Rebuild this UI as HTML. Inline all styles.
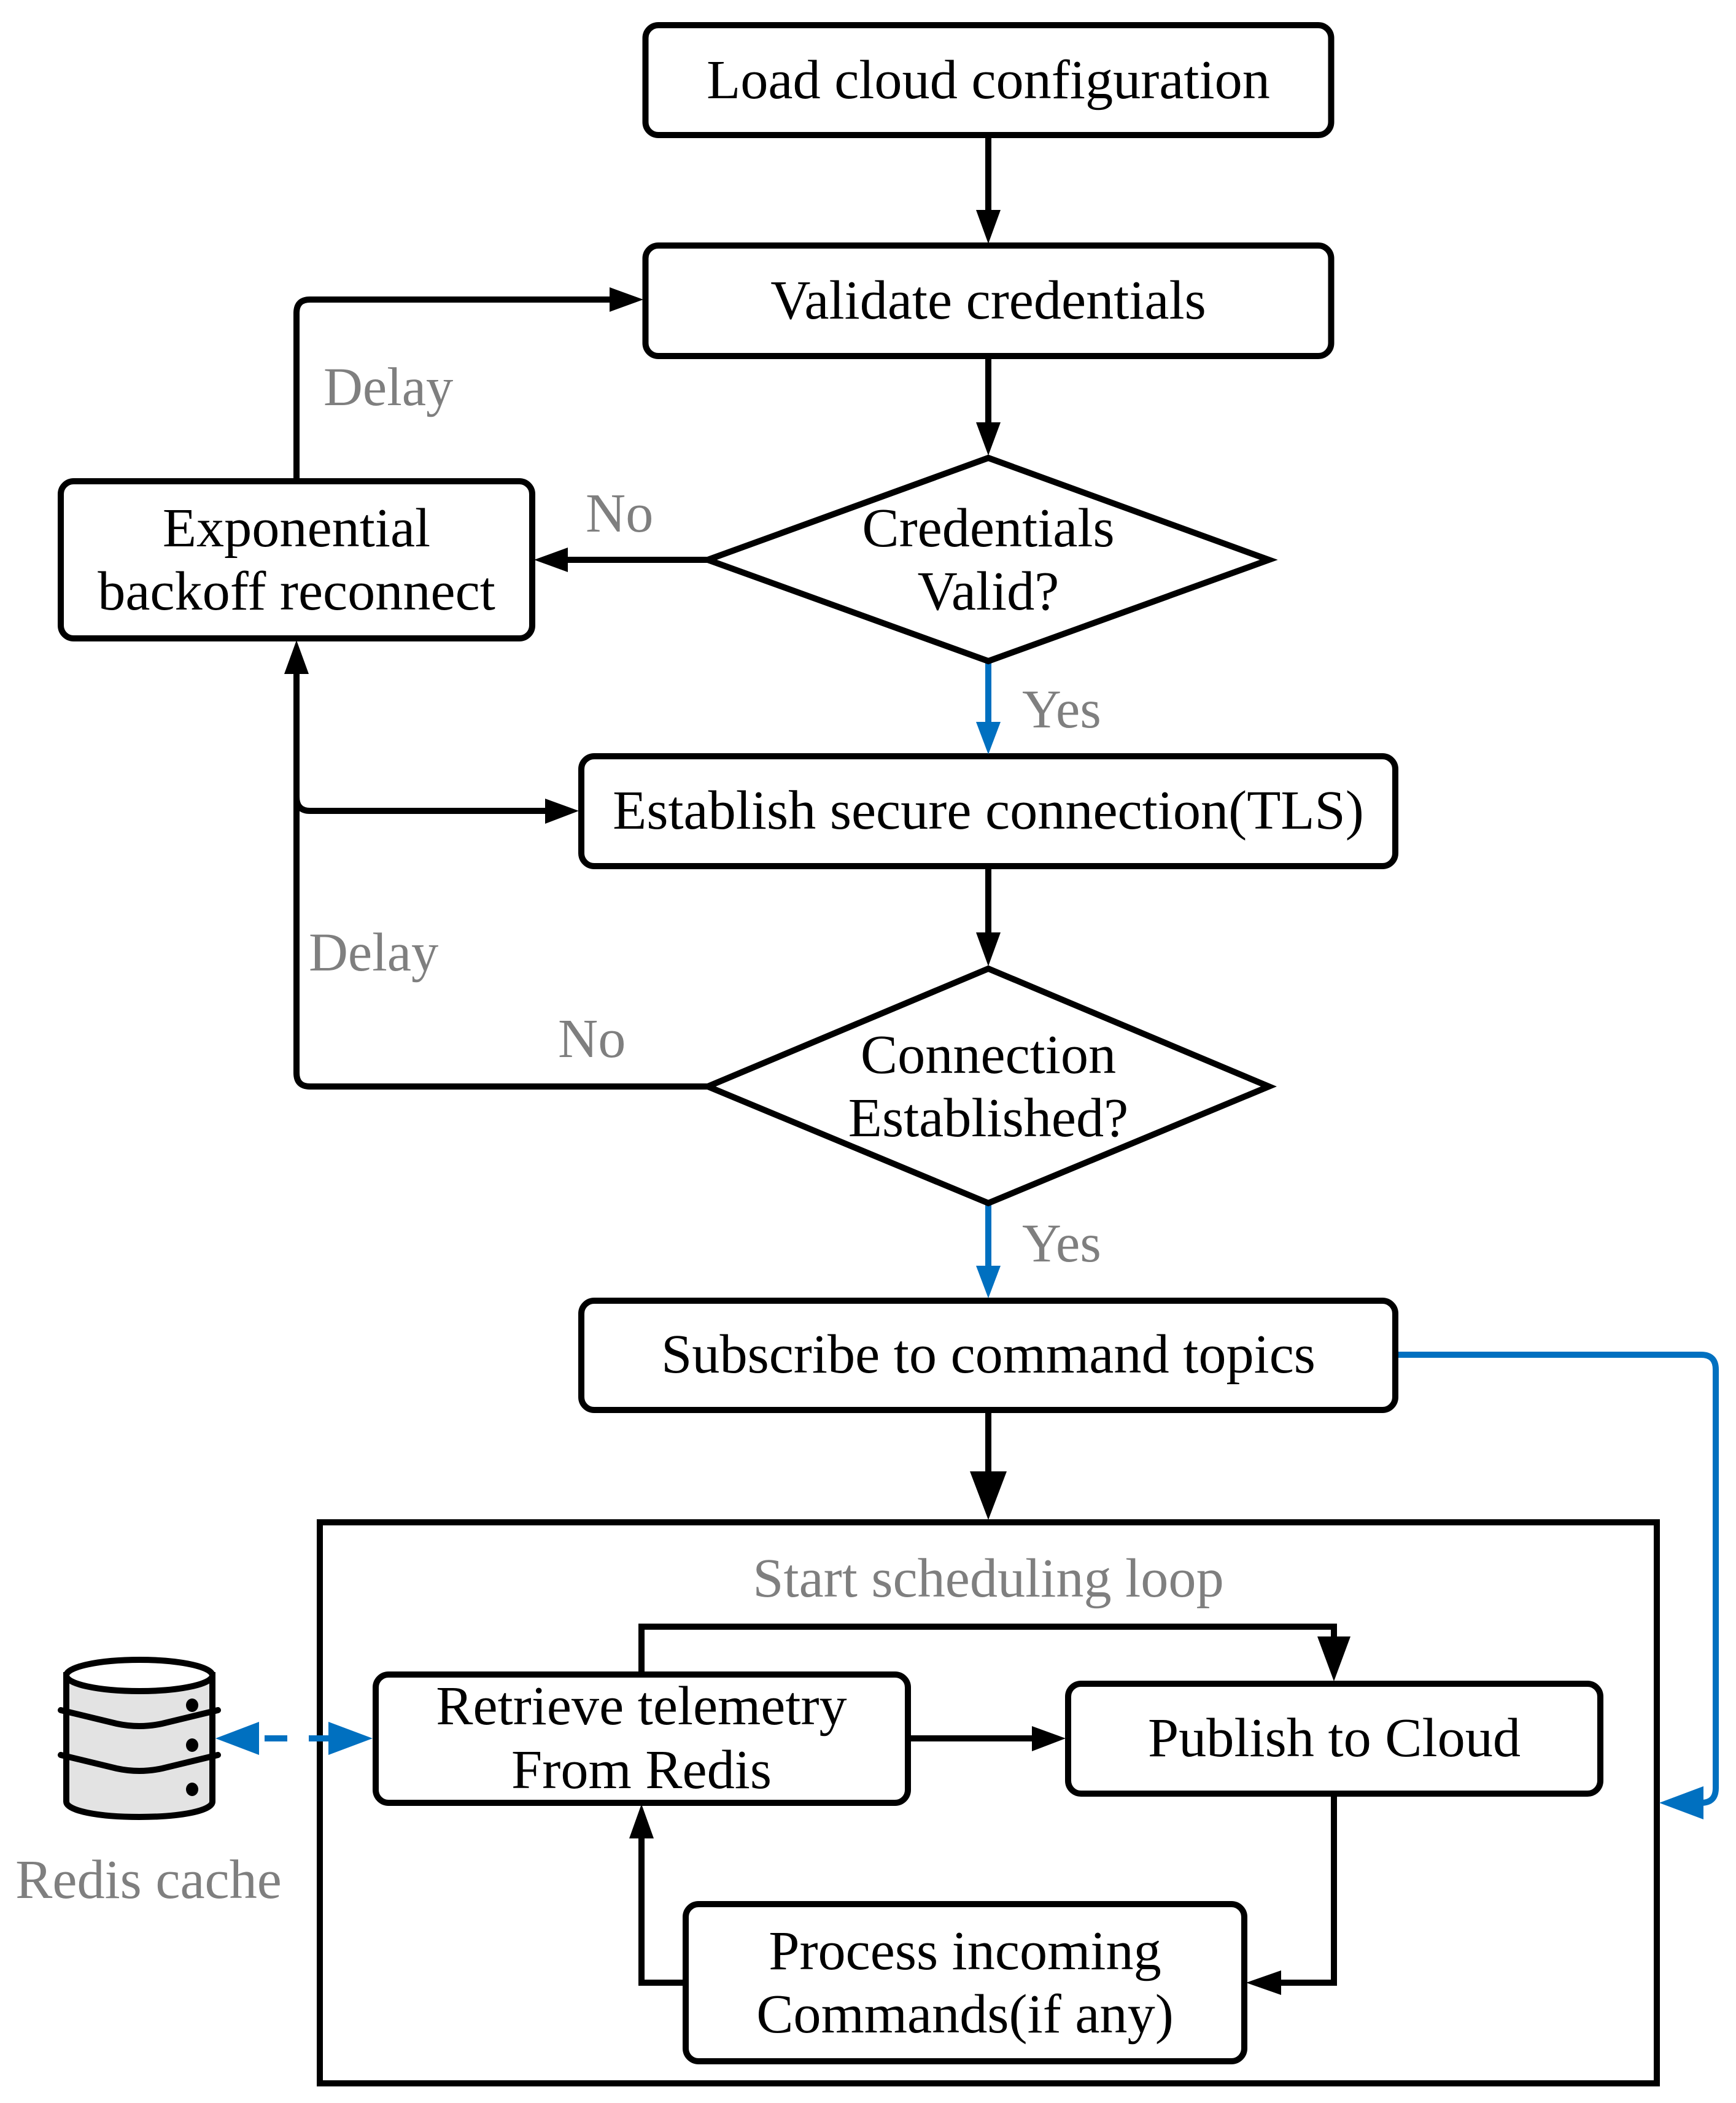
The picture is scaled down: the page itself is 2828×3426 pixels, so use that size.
<!DOCTYPE html>
<html><head><meta charset="utf-8"><style>
html,body{margin:0;padding:0;background:#fff}
svg{display:block}
text{font-family:"Liberation Serif",serif;font-size:90.3px;fill:#000;text-anchor:middle}
text.g{fill:#7f7f7f}
text.l{text-anchor:start}
text.s{font-size:88.5px}
.b{fill:#fff;stroke:#000;stroke-width:10}
.k{fill:none;stroke:#000;stroke-width:10}
.u{fill:none;stroke:#0070c0;stroke-width:10}
</style></head><body>
<svg width="2828" height="3426" viewBox="0 0 2828 3426" xmlns="http://www.w3.org/2000/svg">
<rect width="2828" height="3426" fill="#fff"/>

<!-- connector lines -->
<path class="k" d="M1610 224V345"/>
<path class="k" d="M1610 584V692"/>
<path class="k" d="M1154 912H920"/>
<path class="k" d="M483 785V510Q483 488 505 488H1000"/>
<path class="u" d="M1610 1078V1180"/>
<path class="k" d="M1154 1770H505Q483 1770 483 1748V1095"/>
<path class="k" d="M483 1298Q483 1321 505 1321H892"/>
<path class="k" d="M1610 1416V1523"/>
<path class="u" d="M1610 1962V2066"/>
<path class="u" d="M2273 2207H2771Q2795 2207 2795 2231V2913Q2795 2937 2771 2937"/>
<path class="k" d="M1610 2300V2400"/>

<!-- outer rect -->
<rect x="521" y="2480" width="2178" height="914" fill="none" stroke="#000" stroke-width="10"/>

<!-- inner connector lines -->
<path class="k" d="M1045 2724V2650H2173V2670"/>
<path class="k" d="M1484 2832H1685"/>
<path class="k" d="M2173 2926V3230H2083"/>
<path class="k" d="M1115 3230H1045V2990"/>

<!-- dashed bidirectional -->
<rect x="431" y="2827" width="37" height="10" fill="#0070c0"/>
<rect x="503" y="2827" width="33" height="10" fill="#0070c0"/>

<!-- boxes -->
<rect class="b" x="1051.5" y="41" width="1117" height="179" rx="21"/>
<rect class="b" x="1051.5" y="400" width="1117" height="180" rx="21"/>
<rect class="b" x="99" y="784" width="768" height="256" rx="21"/>
<polygon class="b" points="1153,912 1610,746 2067,912 1610,1077"/>
<rect class="b" x="947" y="1232" width="1326" height="179" rx="21"/>
<polygon class="b" points="1153,1770 1610,1578 2067,1770 1610,1960"/>
<rect class="b" x="947" y="2119" width="1326" height="178" rx="21"/>
<rect class="b" x="612" y="2728" width="867" height="209" rx="21"/>
<rect class="b" x="1740" y="2743" width="867" height="179" rx="21"/>
<rect class="b" x="1117" y="3102" width="910" height="256" rx="21"/>

<!-- arrowheads -->
<polygon points="1590,342 1630,342 1610,397"/>
<polygon points="1590,688 1630,688 1610,742"/>
<polygon points="925,892 925,932 870,912"/>
<polygon points="993,468 993,508 1048,488"/>
<polygon fill="#0070c0" points="1590,1176 1630,1176 1610,1229"/>
<polygon points="463,1098 503,1098 483,1043"/>
<polygon points="888,1301 888,1342 943,1321"/>
<polygon points="1590,1519 1630,1519 1610,1574"/>
<polygon fill="#0070c0" points="1590,2062 1630,2062 1610,2115"/>
<polygon fill="#0070c0" points="2775,2910 2775,2964 2703,2937"/>
<polygon points="1580,2397 1640,2397 1610,2476"/>
<polygon points="2146,2666 2200,2666 2173,2739"/>
<polygon points="1681,2812 1681,2853 1736,2832"/>
<polygon points="2087,3210 2087,3250 2030,3230"/>
<polygon points="1025,2995 1065,2995 1045,2939"/>
<polygon fill="#0070c0" points="351,2832 422,2805 422,2859"/>
<polygon fill="#0070c0" points="607,2832 535,2805 535,2859"/>

<!-- cylinder -->
<path d="M108 2729V2935C108 2950 160 2960 227 2960C294 2960 346 2950 346 2935V2729Z" fill="#e3e3e3" stroke="#000" stroke-width="10"/>
<ellipse cx="227" cy="2729.5" rx="119" ry="25.5" fill="#fff" stroke="#000" stroke-width="10"/>
<path d="M99 2786L190 2808Q227 2816 264 2808L355 2786" fill="none" stroke="#000" stroke-width="10" stroke-linecap="round"/>
<path d="M99 2859L190 2881Q227 2889 264 2881L355 2859" fill="none" stroke="#000" stroke-width="10" stroke-linecap="round"/>
<ellipse cx="313" cy="2778" rx="10" ry="11"/>
<ellipse cx="313" cy="2843" rx="10" ry="11"/>
<ellipse cx="313" cy="2915" rx="10" ry="11"/>

<!-- labels -->
<text x="1610" y="160">Load cloud configuration</text>
<text x="1610" y="519">Validate credentials</text>
<text class="g l s" x="527" y="660">Delay</text>
<text class="g l" x="954" y="866">No</text>
<text x="1610" y="890">Credentials</text>
<text x="1610" y="993">Valid?</text>
<text x="483" y="890">Exponential</text>
<text x="483" y="993">backoff reconnect</text>
<text class="g l s" x="1665" y="1185">Yes</text>
<text x="1610" y="1350">Establish secure connection(TLS)</text>
<text class="g l s" x="503" y="1581">Delay</text>
<text class="g l" x="909" y="1722">No</text>
<text x="1610" y="1748">Connection</text>
<text x="1610" y="1851">Established?</text>
<text class="g l s" x="1665" y="2055">Yes</text>
<text x="1610" y="2236">Subscribe to command topics</text>
<text class="g" x="1610" y="2601">Start scheduling loop</text>
<text x="1045" y="2809">Retrieve telemetry</text>
<text x="1045" y="2913">From Redis</text>
<text x="2173.5" y="2861">Publish to Cloud</text>
<text x="1572" y="3208">Process incoming</text>
<text x="1572" y="3311">Commands(if any)</text>
<text class="g" x="242" y="3092">Redis cache</text>
</svg>
</body></html>
